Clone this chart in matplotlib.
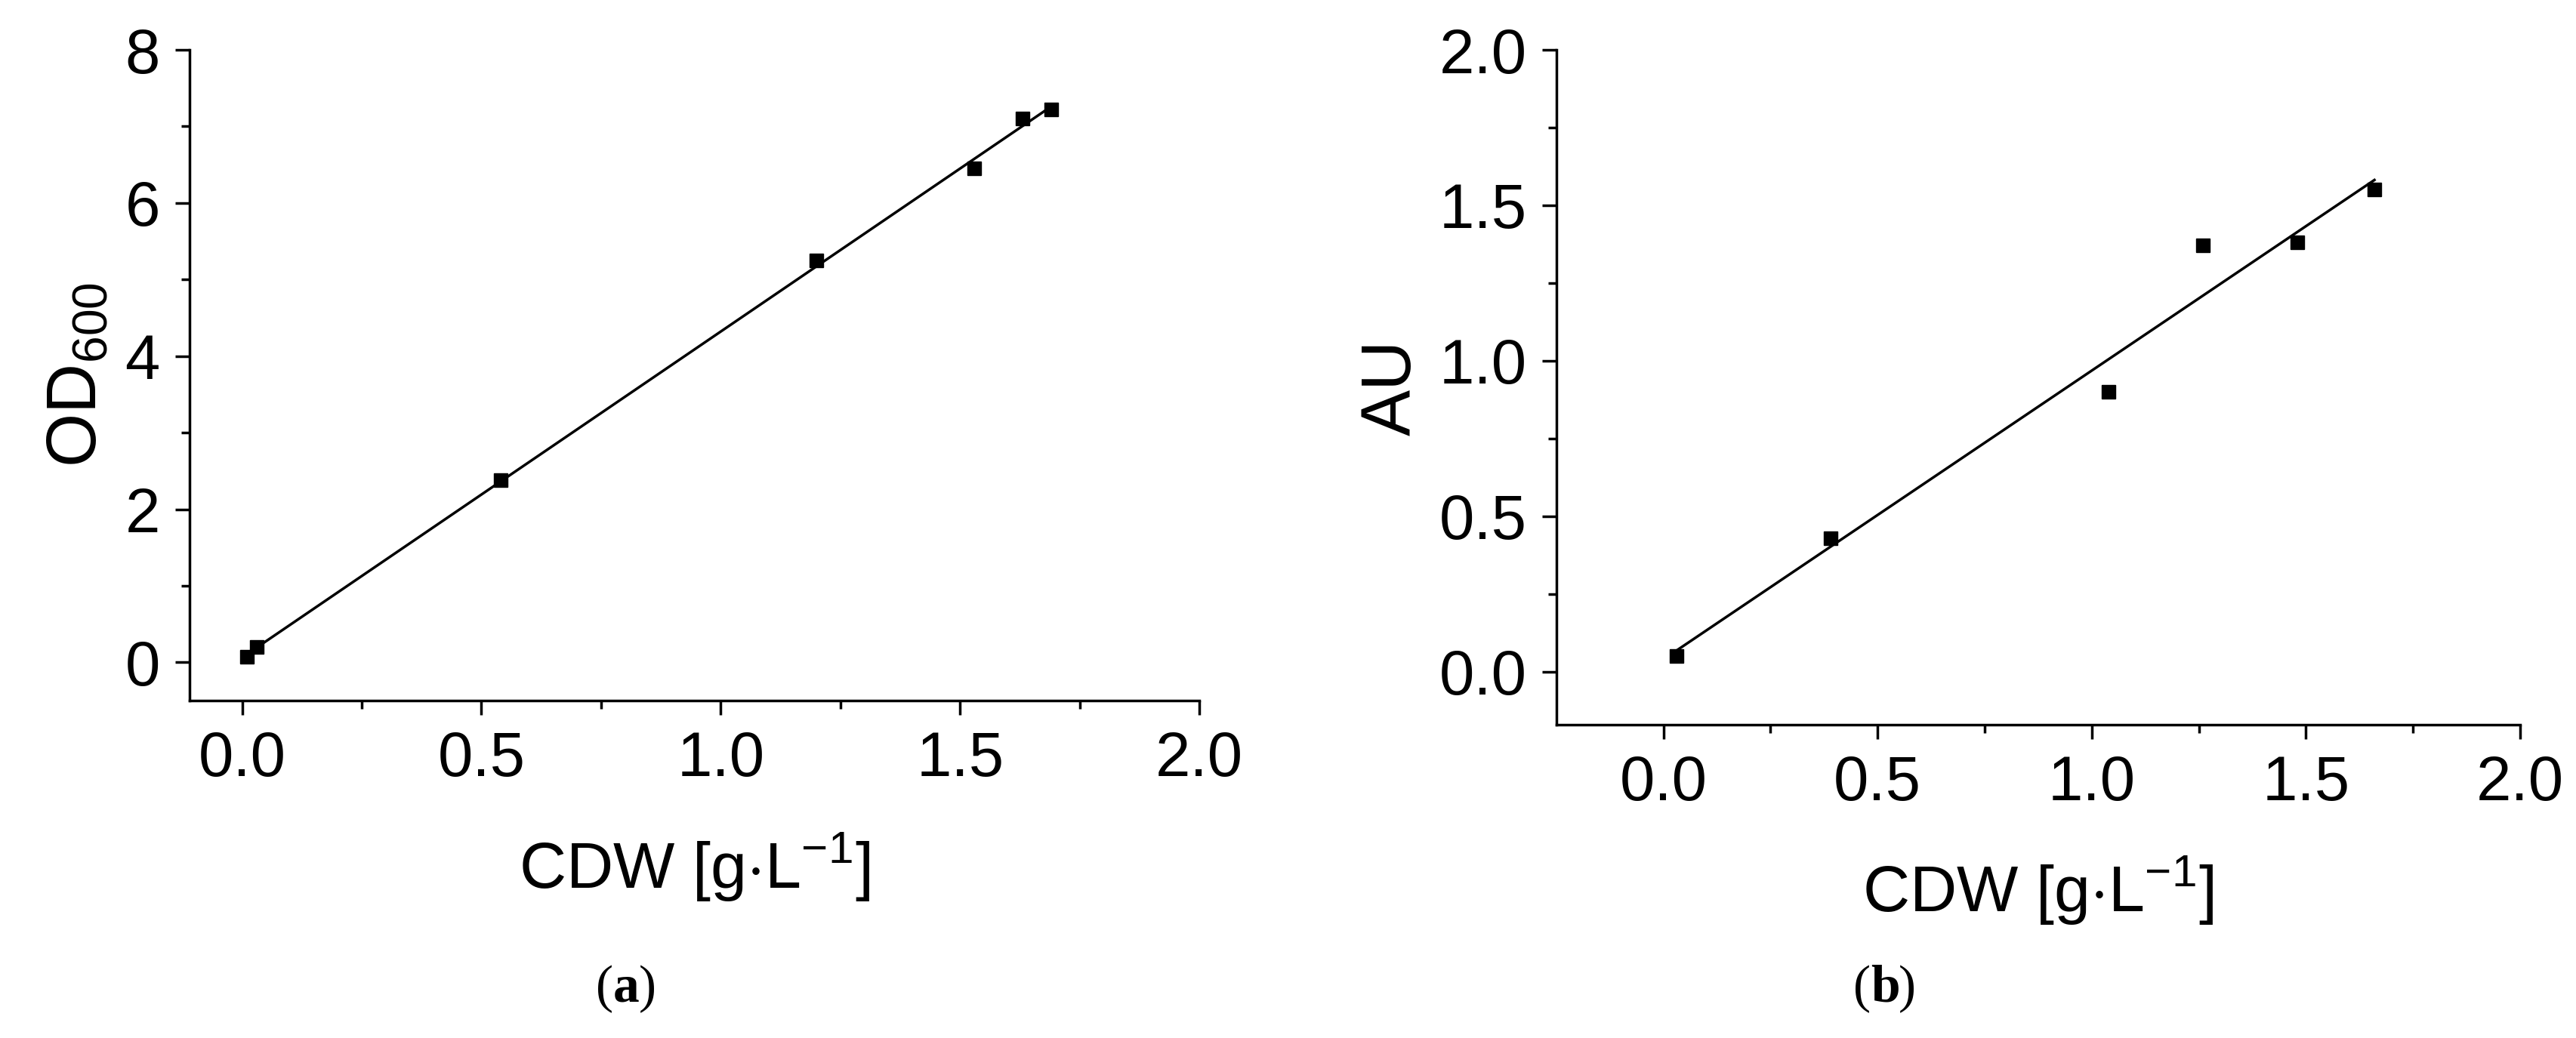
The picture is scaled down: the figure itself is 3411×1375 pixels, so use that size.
import matplotlib.pyplot as plt
import numpy as np

cdw_a = [0.01, 0.03, 0.54, 1.20, 1.53, 1.63, 1.69]
od600 = [0.07, 0.20, 2.38, 5.25, 6.45, 7.10, 7.22]

cdw_b = [0.03, 0.39, 1.04, 1.26, 1.48, 1.66]
au = [0.05, 0.43, 0.90, 1.37, 1.38, 1.55]

plt.rcParams["font.family"] = ["Liberation Sans", "DejaVu Sans"]
plt.rcParams["mathtext.fontset"] = "custom"
plt.rcParams["mathtext.rm"] = "Liberation Sans"

fig = plt.figure(figsize=(34.12, 13.75), dpi=100)
ax1 = fig.add_axes([0.0735, 0.325, 0.392, 0.627])
ax2 = fig.add_axes([0.604, 0.302, 0.374, 0.65])


def style(ax):
    for s in ("top", "right"):
        ax.spines[s].set_visible(False)
    for s in ("left", "bottom"):
        ax.spines[s].set_linewidth(2.5)
    ax.tick_params(which="major", length=14, width=2.5, labelsize=60, pad=14)
    ax.tick_params(which="minor", length=8, width=2.5)


def fit(ax, x, y):
    k, b = np.polyfit(x, y, 1)
    xs = np.array([min(x), max(x)])
    ax.plot(xs, k * xs + b, color="black", lw=2.5)
    ax.plot(x, y, "s", color="black", markersize=13)


fit(ax1, cdw_a, od600)
ax1.set_xlim(-0.11, 2.0)
ax1.set_ylim(-0.5, 8)
ax1.set_xticks([0.0, 0.5, 1.0, 1.5, 2.0])
ax1.set_xticks([0.25, 0.75, 1.25, 1.75], minor=True)
ax1.set_yticks([0, 2, 4, 6, 8])
ax1.set_yticks([1, 3, 5, 7], minor=True)
ax1.set_xlabel("CDW [g$\\cdot$L$^{-1}$]", fontsize=62, labelpad=40)
ax1.set_ylabel("OD$_{600}$", fontsize=66, labelpad=14)
style(ax1)

fit(ax2, cdw_b, au)
ax2.set_xlim(-0.25, 2.0)
ax2.set_ylim(-0.17, 2.0)
ax2.set_xticks([0.0, 0.5, 1.0, 1.5, 2.0])
ax2.set_xticks([0.25, 0.75, 1.25, 1.75], minor=True)
ax2.set_yticks([0.0, 0.5, 1.0, 1.5, 2.0])
ax2.set_yticks([0.25, 0.75, 1.25, 1.75], minor=True)
ax2.set_xlabel("CDW [g$\\cdot$L$^{-1}$]", fontsize=62, labelpad=40)
ax2.set_ylabel("AU", fontsize=66, labelpad=14)
style(ax2)

for x0, letter, w in ((0.238, "a", 0.0098), (0.726, "b", 0.0108)):
    fig.text(x0, 0.035, "(", fontsize=50, family="Liberation Serif", ha="right")
    fig.text(x0, 0.035, letter, fontsize=50, family="Liberation Serif", weight="bold")
    fig.text(x0 + w, 0.035, ")", fontsize=50, family="Liberation Serif")

fig.savefig("out.png", dpi=100)
